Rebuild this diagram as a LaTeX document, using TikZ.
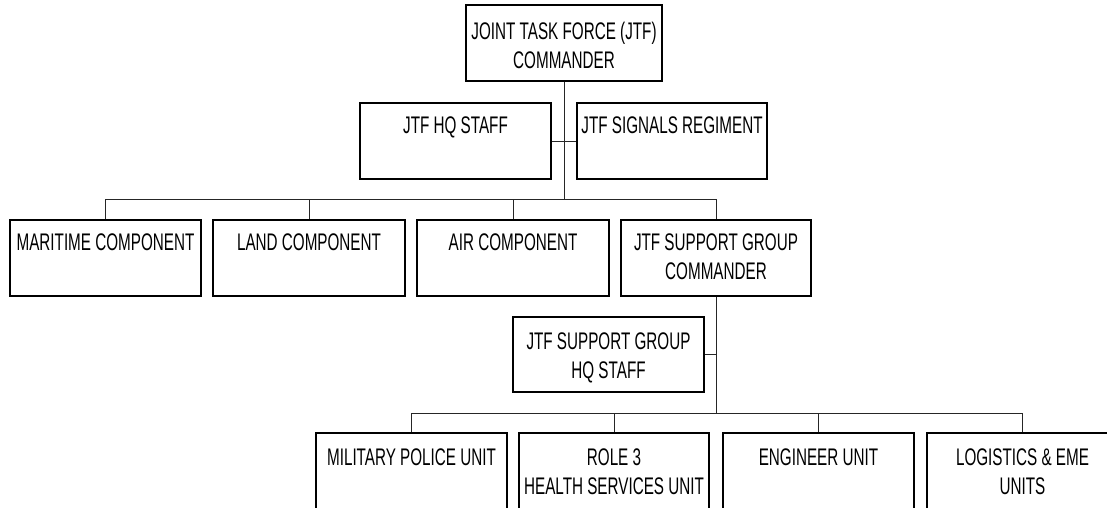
\documentclass[tikz,border=0pt]{standalone}
\usepackage{fontspec}
\setmainfont{Liberation Sans}[FakeStretch=0.635]
\begin{document}
\begin{tikzpicture}[x=1pt,y=-1pt,
  box/.style={draw=black, line width=1.2pt, fill=white, minimum height=76pt, inner sep=0pt},
  lbl/.style={anchor=north, inner sep=0pt, align=center, font=\fontsize{24}{28.5}\selectfont},
  conn/.style={draw=black!85, line width=1pt}]
\clip (0,0) rectangle (1107,508);
\useasboundingbox (0,0) rectangle (1107,508);
% boxes
\node[box, minimum width=196pt] (top) at (564,43) {};
\node[box, minimum width=191pt] (hq) at (455.5,141) {};
\node[box, minimum width=190pt] (sig) at (672,141) {};
\node[box, minimum width=191pt] (mar) at (105.5,258) {};
\node[box, minimum width=192pt] (land) at (309,258) {};
\node[box, minimum width=192pt] (air) at (513,258) {};
\node[box, minimum width=190pt] (sgc) at (716,258) {};
\node[box, minimum width=191pt, minimum height=75pt] (sghq) at (608.5,354.5) {};
\node[box, minimum width=191pt] (mp) at (411.5,471) {};
\node[box, minimum width=190pt] (role) at (614,471) {};
\node[box, minimum width=191pt] (eng) at (818.5,471) {};
\node[box, minimum width=191pt] (log) at (1022.5,471) {};
% labels
\node[lbl] (topl) at (564,22) {JOINT TASK FORCE (JTF)\\COMMANDER};
\node[lbl] (hql) at (455.5,117) {JTF HQ STAFF};
\node[lbl] (sigl) at (672,117) {JTF SIGNALS REGIMENT};
\node[lbl] (marl) at (105.5,234) {MARITIME COMPONENT};
\node[lbl] (landl) at (309,234) {LAND COMPONENT};
\node[lbl] (airl) at (513,234) {AIR COMPONENT};
\node[lbl] (sgcl) at (716,234) {JTF SUPPORT GROUP\\COMMANDER};
\node[lbl] (sghql) at (608.5,333) {JTF SUPPORT GROUP\\HQ STAFF};
\node[lbl] (mpl) at (411.5,449) {MILITARY POLICE UNIT};
\node[lbl] (rolel) at (614,449) {ROLE 3\\HEALTH SERVICES UNIT};
\node[lbl] (engl) at (818.5,449) {ENGINEER UNIT};
\node[lbl] (logl) at (1022.5,449) {LOGISTICS \& EME\\UNITS};
% connectors
\coordinate (b1) at (564,199);
\coordinate (b2) at (716,413);
\draw[conn] (top.south) -- (b1);
\draw[conn] (hq.east) -- (sig.west);
\draw[conn] (mar.north) |- (b1);
\draw[conn] (land.north) |- (b1);
\draw[conn] (air.north) |- (b1);
\draw[conn] (sgc.north) |- (b1);
\draw[conn] (sgc.south) -- (b2);
\draw[conn] (sghq.east) -- (sghq.east -| b2);
\draw[conn] (mp.north) |- (b2);
\draw[conn] (role.north) |- (b2);
\draw[conn] (eng.north) |- (b2);
\draw[conn] (log.north) |- (b2);
\end{tikzpicture}
\end{document}
